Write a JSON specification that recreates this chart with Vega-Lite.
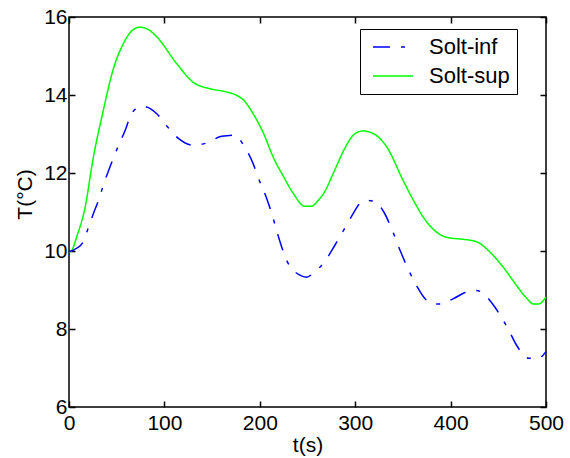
{
  "$schema": "https://vega.github.io/schema/vega-lite/v6.json",
  "width": 477,
  "height": 390,
  "autosize": {"type": "none"},
  "padding": {"left": 69, "top": 17, "right": 24, "bottom": 51},
  "background": "white",
  "config": {
    "font": "Liberation Sans",
    "view": {"stroke": "#000", "strokeWidth": 1.5},
    "axis": {
      "domain": false,
      "grid": false,
      "tickColor": "#000",
      "tickSize": -6,
      "tickWidth": 1.5,
      "labelColor": "#000",
      "labelFont": "Liberation Sans",
      "labelFontSize": 21,
      "labelFlush": false,
      "labelOverlap": false,
      "titleFont": "Liberation Sans",
      "titleFontSize": 21,
      "titleFontWeight": "normal",
      "titleColor": "#000"
    },
    "legend": {
      "orient": "none",
      "legendX": 291,
      "legendY": 12,
      "strokeColor": "#000",
      "fillColor": "white",
      "padding": 7,
      "rowPadding": 7,
      "symbolType": "M-1,0H3",
      "symbolSize": 400,
      "symbolOffset": 5,
      "symbolStrokeWidth": 1.5,
      "labelFont": "Liberation Sans",
      "labelFontSize": 22,
      "labelColor": "#000",
      "labelOffset": 35,
      "title": null
    }
  },
  "data": {"values": [
    {"t": 0, "T": 9.97, "serie": "Solt-sup"},
    {"t": 3, "T": 10.02, "serie": "Solt-sup"},
    {"t": 8, "T": 10.36, "serie": "Solt-sup"},
    {"t": 17, "T": 11.13, "serie": "Solt-sup"},
    {"t": 25, "T": 12.33, "serie": "Solt-sup"},
    {"t": 36, "T": 13.61, "serie": "Solt-sup"},
    {"t": 46, "T": 14.63, "serie": "Solt-sup"},
    {"t": 57, "T": 15.32, "serie": "Solt-sup"},
    {"t": 66, "T": 15.65, "serie": "Solt-sup"},
    {"t": 74, "T": 15.74, "serie": "Solt-sup"},
    {"t": 83, "T": 15.68, "serie": "Solt-sup"},
    {"t": 92, "T": 15.49, "serie": "Solt-sup"},
    {"t": 113, "T": 14.8, "serie": "Solt-sup"},
    {"t": 130, "T": 14.33, "serie": "Solt-sup"},
    {"t": 148, "T": 14.16, "serie": "Solt-sup"},
    {"t": 165, "T": 14.08, "serie": "Solt-sup"},
    {"t": 175, "T": 14.0, "serie": "Solt-sup"},
    {"t": 183, "T": 13.87, "serie": "Solt-sup"},
    {"t": 193, "T": 13.52, "serie": "Solt-sup"},
    {"t": 204, "T": 13.01, "serie": "Solt-sup"},
    {"t": 214, "T": 12.41, "serie": "Solt-sup"},
    {"t": 225, "T": 11.9, "serie": "Solt-sup"},
    {"t": 235, "T": 11.48, "serie": "Solt-sup"},
    {"t": 247, "T": 11.15, "serie": "Solt-sup"},
    {"t": 254, "T": 11.15, "serie": "Solt-sup"},
    {"t": 262, "T": 11.32, "serie": "Solt-sup"},
    {"t": 267, "T": 11.48, "serie": "Solt-sup"},
    {"t": 277, "T": 11.99, "serie": "Solt-sup"},
    {"t": 288, "T": 12.58, "serie": "Solt-sup"},
    {"t": 298, "T": 12.97, "serie": "Solt-sup"},
    {"t": 308, "T": 13.08, "serie": "Solt-sup"},
    {"t": 319, "T": 13.01, "serie": "Solt-sup"},
    {"t": 333, "T": 12.67, "serie": "Solt-sup"},
    {"t": 350, "T": 11.82, "serie": "Solt-sup"},
    {"t": 361, "T": 11.3, "serie": "Solt-sup"},
    {"t": 371, "T": 10.88, "serie": "Solt-sup"},
    {"t": 385, "T": 10.49, "serie": "Solt-sup"},
    {"t": 396, "T": 10.35, "serie": "Solt-sup"},
    {"t": 413, "T": 10.3, "serie": "Solt-sup"},
    {"t": 427, "T": 10.24, "serie": "Solt-sup"},
    {"t": 441, "T": 9.98, "serie": "Solt-sup"},
    {"t": 455, "T": 9.59, "serie": "Solt-sup"},
    {"t": 469, "T": 9.12, "serie": "Solt-sup"},
    {"t": 480, "T": 8.78, "serie": "Solt-sup"},
    {"t": 487, "T": 8.64, "serie": "Solt-sup"},
    {"t": 492, "T": 8.64, "serie": "Solt-sup"},
    {"t": 500, "T": 8.82, "serie": "Solt-sup"},
    {"t": 0, "T": 9.98, "serie": "Solt-inf"},
    {"t": 8, "T": 10.07, "serie": "Solt-inf"},
    {"t": 15, "T": 10.24, "serie": "Solt-inf"},
    {"t": 20, "T": 10.58, "serie": "Solt-inf"},
    {"t": 27, "T": 11.05, "serie": "Solt-inf"},
    {"t": 31, "T": 11.3, "serie": "Solt-inf"},
    {"t": 36, "T": 11.69, "serie": "Solt-inf"},
    {"t": 43, "T": 12.16, "serie": "Solt-inf"},
    {"t": 52, "T": 12.71, "serie": "Solt-inf"},
    {"t": 59, "T": 13.1, "serie": "Solt-inf"},
    {"t": 64, "T": 13.44, "serie": "Solt-inf"},
    {"t": 70, "T": 13.65, "serie": "Solt-inf"},
    {"t": 76, "T": 13.71, "serie": "Solt-inf"},
    {"t": 80, "T": 13.7, "serie": "Solt-inf"},
    {"t": 92, "T": 13.52, "serie": "Solt-inf"},
    {"t": 102, "T": 13.22, "serie": "Solt-inf"},
    {"t": 115, "T": 12.88, "serie": "Solt-inf"},
    {"t": 130, "T": 12.71, "serie": "Solt-inf"},
    {"t": 143, "T": 12.76, "serie": "Solt-inf"},
    {"t": 160, "T": 12.94, "serie": "Solt-inf"},
    {"t": 174, "T": 12.97, "serie": "Solt-inf"},
    {"t": 183, "T": 12.71, "serie": "Solt-inf"},
    {"t": 193, "T": 12.24, "serie": "Solt-inf"},
    {"t": 198, "T": 11.9, "serie": "Solt-inf"},
    {"t": 206, "T": 11.43, "serie": "Solt-inf"},
    {"t": 213, "T": 10.92, "serie": "Solt-inf"},
    {"t": 219, "T": 10.41, "serie": "Solt-inf"},
    {"t": 228, "T": 9.77, "serie": "Solt-inf"},
    {"t": 242, "T": 9.38, "serie": "Solt-inf"},
    {"t": 249, "T": 9.33, "serie": "Solt-inf"},
    {"t": 256, "T": 9.43, "serie": "Solt-inf"},
    {"t": 268, "T": 9.73, "serie": "Solt-inf"},
    {"t": 279, "T": 10.16, "serie": "Solt-inf"},
    {"t": 289, "T": 10.58, "serie": "Solt-inf"},
    {"t": 296, "T": 10.88, "serie": "Solt-inf"},
    {"t": 305, "T": 11.22, "serie": "Solt-inf"},
    {"t": 312, "T": 11.3, "serie": "Solt-inf"},
    {"t": 321, "T": 11.26, "serie": "Solt-inf"},
    {"t": 330, "T": 11.0, "serie": "Solt-inf"},
    {"t": 338, "T": 10.58, "serie": "Solt-inf"},
    {"t": 347, "T": 10.02, "serie": "Solt-inf"},
    {"t": 356, "T": 9.51, "serie": "Solt-inf"},
    {"t": 365, "T": 9.08, "serie": "Solt-inf"},
    {"t": 373, "T": 8.78, "serie": "Solt-inf"},
    {"t": 382, "T": 8.65, "serie": "Solt-inf"},
    {"t": 389, "T": 8.64, "serie": "Solt-inf"},
    {"t": 403, "T": 8.78, "serie": "Solt-inf"},
    {"t": 419, "T": 8.97, "serie": "Solt-inf"},
    {"t": 427, "T": 8.99, "serie": "Solt-inf"},
    {"t": 432, "T": 8.95, "serie": "Solt-inf"},
    {"t": 445, "T": 8.61, "serie": "Solt-inf"},
    {"t": 455, "T": 8.23, "serie": "Solt-inf"},
    {"t": 461, "T": 7.97, "serie": "Solt-inf"},
    {"t": 469, "T": 7.59, "serie": "Solt-inf"},
    {"t": 482, "T": 7.25, "serie": "Solt-inf"},
    {"t": 492, "T": 7.25, "serie": "Solt-inf"},
    {"t": 500, "T": 7.42, "serie": "Solt-inf"}
  ]},
  "layer": [
    {
      "mark": {"type": "line", "strokeWidth": 1.5, "interpolate": "monotone"},
      "encoding": {
        "x": {"field": "t", "type": "quantitative", "scale": {"domain": [0, 500], "nice": false},
              "axis": {"orient": "bottom", "values": [0, 100, 200, 300, 400, 500], "title": "t(s)", "labelPadding": 11, "titlePadding": 1}},
        "y": {"field": "T", "type": "quantitative", "scale": {"domain": [6, 16], "nice": false},
              "axis": {"orient": "left", "values": [6, 8, 10, 12, 14, 16], "title": "T(°C)", "labelPadding": 8, "titleX": -44, "titleY": 177, "titleAlign": "center", "titleBaseline": "middle", "titleAngle": -90}},
        "color": {"field": "serie", "type": "nominal",
                  "scale": {"domain": ["Solt-inf", "Solt-sup"], "range": ["#0000ff", "#00ff00"]},
                  "legend": {"title": null}},
        "strokeDash": {"field": "serie", "type": "nominal",
                       "scale": {"domain": ["Solt-inf", "Solt-sup"], "range": [[17, 11, 4, 11], [1, 0]]},
                       "legend": {"title": null}}
      }
    },
    {
      "mark": {"type": "line", "strokeOpacity": 0},
      "encoding": {
        "x": {"field": "t", "type": "quantitative",
              "axis": {"orient": "top", "values": [0, 100, 200, 300, 400, 500], "labels": false, "title": null}},
        "y": {"field": "T", "type": "quantitative",
              "axis": {"orient": "right", "values": [6, 8, 10, 12, 14, 16], "labels": false, "title": null}},
        "detail": {"field": "serie"}
      }
    }
  ],
  "resolve": {"axis": {"x": "independent", "y": "independent"}}
}
